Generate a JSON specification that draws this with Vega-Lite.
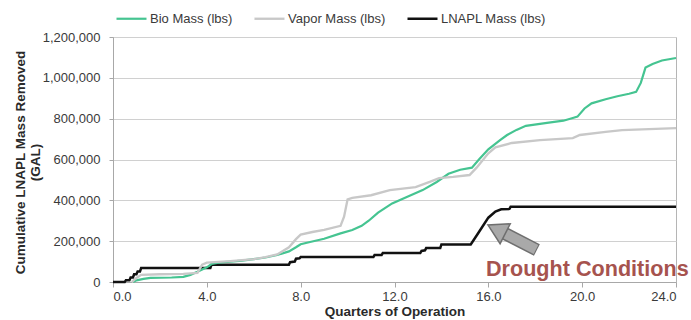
{
  "$schema": "https://vega.github.io/schema/vega-lite/v6.json",
  "width": 563,
  "height": 245,
  "autosize": {"type": "none"},
  "padding": {"left": 113, "top": 37, "right": 15, "bottom": 38},
  "background": "white",
  "config": {
    "font": "Liberation Sans",
    "view": {"stroke": "#b5b5b5", "strokeWidth": 1},
    "axis": {
      "labelFont": "Liberation Sans", "labelFontSize": 13, "labelColor": "#3a3a3a",
      "titleFont": "Liberation Sans", "titleFontSize": 13.5, "titleFontWeight": "bold", "titleColor": "#2a2a2a",
      "domainColor": "#a8a8a8", "tickColor": "#a8a8a8", "gridColor": "#d0d0d0"
    },
    "legend": {"labelFont": "Liberation Sans", "labelFontSize": 13, "labelColor": "#3a3a3a"}
  },
  "datasets": {
    "series": [
      {"q": 0, "mass": 0, "series": "LNAPL Mass (lbs)"},
      {"q": 0.5, "mass": 0, "series": "LNAPL Mass (lbs)"},
      {"q": 0.55, "mass": 8000, "series": "LNAPL Mass (lbs)"},
      {"q": 0.7, "mass": 8000, "series": "LNAPL Mass (lbs)"},
      {"q": 0.75, "mass": 22000, "series": "LNAPL Mass (lbs)"},
      {"q": 0.85, "mass": 22000, "series": "LNAPL Mass (lbs)"},
      {"q": 0.9, "mass": 38000, "series": "LNAPL Mass (lbs)"},
      {"q": 1.0, "mass": 38000, "series": "LNAPL Mass (lbs)"},
      {"q": 1.05, "mass": 52000, "series": "LNAPL Mass (lbs)"},
      {"q": 1.15, "mass": 52000, "series": "LNAPL Mass (lbs)"},
      {"q": 1.2, "mass": 68000, "series": "LNAPL Mass (lbs)"},
      {"q": 4.15, "mass": 68000, "series": "LNAPL Mass (lbs)"},
      {"q": 4.2, "mass": 85000, "series": "LNAPL Mass (lbs)"},
      {"q": 7.5, "mass": 85000, "series": "LNAPL Mass (lbs)"},
      {"q": 7.55, "mass": 97000, "series": "LNAPL Mass (lbs)"},
      {"q": 7.75, "mass": 100000, "series": "LNAPL Mass (lbs)"},
      {"q": 7.8, "mass": 114000, "series": "LNAPL Mass (lbs)"},
      {"q": 7.95, "mass": 116000, "series": "LNAPL Mass (lbs)"},
      {"q": 8.0, "mass": 122000, "series": "LNAPL Mass (lbs)"},
      {"q": 11.1, "mass": 122000, "series": "LNAPL Mass (lbs)"},
      {"q": 11.15, "mass": 132000, "series": "LNAPL Mass (lbs)"},
      {"q": 11.45, "mass": 132000, "series": "LNAPL Mass (lbs)"},
      {"q": 11.5, "mass": 142000, "series": "LNAPL Mass (lbs)"},
      {"q": 13.1, "mass": 142000, "series": "LNAPL Mass (lbs)"},
      {"q": 13.15, "mass": 152000, "series": "LNAPL Mass (lbs)"},
      {"q": 13.3, "mass": 155000, "series": "LNAPL Mass (lbs)"},
      {"q": 13.35, "mass": 166000, "series": "LNAPL Mass (lbs)"},
      {"q": 13.95, "mass": 166000, "series": "LNAPL Mass (lbs)"},
      {"q": 14.0, "mass": 184000, "series": "LNAPL Mass (lbs)"},
      {"q": 15.25, "mass": 184000, "series": "LNAPL Mass (lbs)"},
      {"q": 15.6, "mass": 245000, "series": "LNAPL Mass (lbs)"},
      {"q": 16.0, "mass": 315000, "series": "LNAPL Mass (lbs)"},
      {"q": 16.3, "mass": 345000, "series": "LNAPL Mass (lbs)"},
      {"q": 16.55, "mass": 356000, "series": "LNAPL Mass (lbs)"},
      {"q": 16.9, "mass": 358000, "series": "LNAPL Mass (lbs)"},
      {"q": 16.95, "mass": 368000, "series": "LNAPL Mass (lbs)"},
      {"q": 24.0, "mass": 368000, "series": "LNAPL Mass (lbs)"},

      {"q": 0.85, "mass": 0, "series": "Bio Mass (lbs)"},
      {"q": 1.0, "mass": 8000, "series": "Bio Mass (lbs)"},
      {"q": 1.3, "mass": 15000, "series": "Bio Mass (lbs)"},
      {"q": 1.6, "mass": 20000, "series": "Bio Mass (lbs)"},
      {"q": 2.5, "mass": 22000, "series": "Bio Mass (lbs)"},
      {"q": 3.0, "mass": 25000, "series": "Bio Mass (lbs)"},
      {"q": 3.3, "mass": 35000, "series": "Bio Mass (lbs)"},
      {"q": 3.6, "mass": 50000, "series": "Bio Mass (lbs)"},
      {"q": 4.0, "mass": 72000, "series": "Bio Mass (lbs)"},
      {"q": 4.2, "mass": 88000, "series": "Bio Mass (lbs)"},
      {"q": 4.5, "mass": 95000, "series": "Bio Mass (lbs)"},
      {"q": 5.0, "mass": 100000, "series": "Bio Mass (lbs)"},
      {"q": 5.5, "mass": 105000, "series": "Bio Mass (lbs)"},
      {"q": 6.0, "mass": 112000, "series": "Bio Mass (lbs)"},
      {"q": 6.5, "mass": 120000, "series": "Bio Mass (lbs)"},
      {"q": 7.0, "mass": 132000, "series": "Bio Mass (lbs)"},
      {"q": 7.5, "mass": 150000, "series": "Bio Mass (lbs)"},
      {"q": 7.8, "mass": 170000, "series": "Bio Mass (lbs)"},
      {"q": 8.0, "mass": 185000, "series": "Bio Mass (lbs)"},
      {"q": 8.4, "mass": 196000, "series": "Bio Mass (lbs)"},
      {"q": 9.0, "mass": 212000, "series": "Bio Mass (lbs)"},
      {"q": 9.7, "mass": 238000, "series": "Bio Mass (lbs)"},
      {"q": 10.2, "mass": 255000, "series": "Bio Mass (lbs)"},
      {"q": 10.6, "mass": 275000, "series": "Bio Mass (lbs)"},
      {"q": 10.9, "mass": 300000, "series": "Bio Mass (lbs)"},
      {"q": 11.3, "mass": 340000, "series": "Bio Mass (lbs)"},
      {"q": 11.9, "mass": 385000, "series": "Bio Mass (lbs)"},
      {"q": 12.5, "mass": 415000, "series": "Bio Mass (lbs)"},
      {"q": 13.2, "mass": 450000, "series": "Bio Mass (lbs)"},
      {"q": 13.8, "mass": 490000, "series": "Bio Mass (lbs)"},
      {"q": 14.3, "mass": 530000, "series": "Bio Mass (lbs)"},
      {"q": 14.8, "mass": 550000, "series": "Bio Mass (lbs)"},
      {"q": 15.3, "mass": 560000, "series": "Bio Mass (lbs)"},
      {"q": 15.6, "mass": 600000, "series": "Bio Mass (lbs)"},
      {"q": 16.0, "mass": 650000, "series": "Bio Mass (lbs)"},
      {"q": 16.5, "mass": 695000, "series": "Bio Mass (lbs)"},
      {"q": 16.8, "mass": 720000, "series": "Bio Mass (lbs)"},
      {"q": 17.2, "mass": 745000, "series": "Bio Mass (lbs)"},
      {"q": 17.6, "mass": 765000, "series": "Bio Mass (lbs)"},
      {"q": 18.5, "mass": 779000, "series": "Bio Mass (lbs)"},
      {"q": 19.2, "mass": 790000, "series": "Bio Mass (lbs)"},
      {"q": 19.6, "mass": 803000, "series": "Bio Mass (lbs)"},
      {"q": 19.8, "mass": 810000, "series": "Bio Mass (lbs)"},
      {"q": 20.1, "mass": 850000, "series": "Bio Mass (lbs)"},
      {"q": 20.4, "mass": 875000, "series": "Bio Mass (lbs)"},
      {"q": 21.0, "mass": 895000, "series": "Bio Mass (lbs)"},
      {"q": 21.5, "mass": 910000, "series": "Bio Mass (lbs)"},
      {"q": 22.0, "mass": 922000, "series": "Bio Mass (lbs)"},
      {"q": 22.3, "mass": 931000, "series": "Bio Mass (lbs)"},
      {"q": 22.5, "mass": 975000, "series": "Bio Mass (lbs)"},
      {"q": 22.7, "mass": 1050000, "series": "Bio Mass (lbs)"},
      {"q": 23.0, "mass": 1068000, "series": "Bio Mass (lbs)"},
      {"q": 23.4, "mass": 1085000, "series": "Bio Mass (lbs)"},
      {"q": 24.0, "mass": 1097000, "series": "Bio Mass (lbs)"},

      {"q": 0.8, "mass": 0, "series": "Vapor Mass (lbs)"},
      {"q": 1.0, "mass": 20000, "series": "Vapor Mass (lbs)"},
      {"q": 1.2, "mass": 35000, "series": "Vapor Mass (lbs)"},
      {"q": 2.0, "mass": 38000, "series": "Vapor Mass (lbs)"},
      {"q": 3.0, "mass": 40000, "series": "Vapor Mass (lbs)"},
      {"q": 3.6, "mass": 45000, "series": "Vapor Mass (lbs)"},
      {"q": 3.8, "mass": 85000, "series": "Vapor Mass (lbs)"},
      {"q": 4.0, "mass": 95000, "series": "Vapor Mass (lbs)"},
      {"q": 5.0, "mass": 102000, "series": "Vapor Mass (lbs)"},
      {"q": 6.0, "mass": 112000, "series": "Vapor Mass (lbs)"},
      {"q": 6.5, "mass": 122000, "series": "Vapor Mass (lbs)"},
      {"q": 7.0, "mass": 135000, "series": "Vapor Mass (lbs)"},
      {"q": 7.5, "mass": 170000, "series": "Vapor Mass (lbs)"},
      {"q": 7.8, "mass": 210000, "series": "Vapor Mass (lbs)"},
      {"q": 8.0, "mass": 232000, "series": "Vapor Mass (lbs)"},
      {"q": 8.5, "mass": 245000, "series": "Vapor Mass (lbs)"},
      {"q": 9.0, "mass": 255000, "series": "Vapor Mass (lbs)"},
      {"q": 9.7, "mass": 275000, "series": "Vapor Mass (lbs)"},
      {"q": 9.85, "mass": 320000, "series": "Vapor Mass (lbs)"},
      {"q": 10.0, "mass": 405000, "series": "Vapor Mass (lbs)"},
      {"q": 10.2, "mass": 412000, "series": "Vapor Mass (lbs)"},
      {"q": 11.0, "mass": 425000, "series": "Vapor Mass (lbs)"},
      {"q": 11.8, "mass": 450000, "series": "Vapor Mass (lbs)"},
      {"q": 12.9, "mass": 465000, "series": "Vapor Mass (lbs)"},
      {"q": 13.5, "mass": 490000, "series": "Vapor Mass (lbs)"},
      {"q": 13.9, "mass": 509000, "series": "Vapor Mass (lbs)"},
      {"q": 14.5, "mass": 515000, "series": "Vapor Mass (lbs)"},
      {"q": 15.2, "mass": 524000, "series": "Vapor Mass (lbs)"},
      {"q": 15.5, "mass": 560000, "series": "Vapor Mass (lbs)"},
      {"q": 16.0, "mass": 630000, "series": "Vapor Mass (lbs)"},
      {"q": 16.3, "mass": 660000, "series": "Vapor Mass (lbs)"},
      {"q": 17.0, "mass": 681000, "series": "Vapor Mass (lbs)"},
      {"q": 18.2, "mass": 695000, "series": "Vapor Mass (lbs)"},
      {"q": 19.6, "mass": 705000, "series": "Vapor Mass (lbs)"},
      {"q": 19.9, "mass": 720000, "series": "Vapor Mass (lbs)"},
      {"q": 21.0, "mass": 735000, "series": "Vapor Mass (lbs)"},
      {"q": 21.7, "mass": 744000, "series": "Vapor Mass (lbs)"},
      {"q": 24.0, "mass": 754000, "series": "Vapor Mass (lbs)"}
    ]
  },
  "layer": [
    {
      "data": {"name": "series"},
      "mark": {"type": "line", "interpolate": "linear"},
      "encoding": {
        "x": {
          "field": "q", "type": "quantitative",
          "scale": {"domain": [0, 24], "nice": false},
          "axis": {
            "title": "Quarters of Operation", "values": [0, 4, 8, 12, 16, 20, 24], "format": ".1f",
            "grid": false, "tickSize": 5, "labelPadding": 3,
            "titleBaseline": "alphabetic", "titleY": 33
          }
        },
        "y": {
          "field": "mass", "type": "quantitative",
          "scale": {"domain": [0, 1200000], "nice": false},
          "axis": {
            "title": ["Cumulative LNAPL Mass Removed", "\u00a0\u00a0\u00a0\u00a0\u00a0\u00a0\u00a0\u00a0(GAL)"],
            "values": [0, 200000, 400000, 600000, 800000, 1000000, 1200000], "format": ",d",
            "grid": true, "tickSize": 4, "labelPadding": 9,
            "titleAngle": -90, "titleAlign": "center", "titleBaseline": "alphabetic",
            "titleX": -89, "titleY": 125, "titleLineHeight": 15
          }
        },
        "color": {
          "field": "series", "type": "nominal",
          "scale": {
            "domain": ["Bio Mass (lbs)", "Vapor Mass (lbs)", "LNAPL Mass (lbs)"],
            "range": ["#45c491", "#c8c8c8", "#111111"]
          },
          "legend": {
            "title": null, "orient": "none", "direction": "horizontal",
            "legendX": 2, "legendY": -35,
            "symbolType": "stroke", "symbolSize": 900, "symbolStrokeWidth": 2.5,
            "labelOffset": 2, "columnPadding": 16
          }
        },
        "strokeWidth": {
          "field": "series", "type": "nominal",
          "scale": {
            "domain": ["Bio Mass (lbs)", "Vapor Mass (lbs)", "LNAPL Mass (lbs)"],
            "range": [2.2, 2.5, 2.8]
          },
          "legend": null
        },
        "order": {"field": "q", "type": "quantitative"}
      }
    },
    {
      "data": {"values": [{"x1": 16.71, "y1": 237000, "x2": 18.07, "y2": 157000}]},
      "mark": {"type": "rule", "color": "#6f6f6f", "strokeWidth": 13},
      "encoding": {
        "x": {"field": "x1", "type": "quantitative"},
        "y": {"field": "y1", "type": "quantitative"},
        "x2": {"field": "x2"},
        "y2": {"field": "y2"}
      }
    },
    {
      "data": {"values": [{"x1": 16.71, "y1": 237000, "x2": 18.03, "y2": 159000}]},
      "mark": {"type": "rule", "color": "#a9a9a9", "strokeWidth": 10},
      "encoding": {
        "x": {"field": "x1", "type": "quantitative"},
        "y": {"field": "y1", "type": "quantitative"},
        "x2": {"field": "x2"},
        "y2": {"field": "y2"}
      }
    },
    {
      "data": {"values": [{"x": 16.35, "y": 258000}]},
      "mark": {"type": "point", "shape": "triangle-up", "size": 500, "angle": 297, "filled": true, "fill": "#a9a9a9", "stroke": "#6f6f6f", "strokeWidth": 1.5, "opacity": 1},
      "encoding": {
        "x": {"field": "x", "type": "quantitative"},
        "y": {"field": "y", "type": "quantitative"}
      }
    },
    {
      "data": {"values": [{"x": 15.9, "y": 29000, "label": "Drought Conditions"}]},
      "mark": {"type": "text", "align": "left", "baseline": "alphabetic", "font": "Liberation Sans", "fontSize": 21.6, "fontWeight": "bold", "color": "#a6534e"},
      "encoding": {
        "x": {"field": "x", "type": "quantitative"},
        "y": {"field": "y", "type": "quantitative"},
        "text": {"field": "label"}
      }
    }
  ]
}
